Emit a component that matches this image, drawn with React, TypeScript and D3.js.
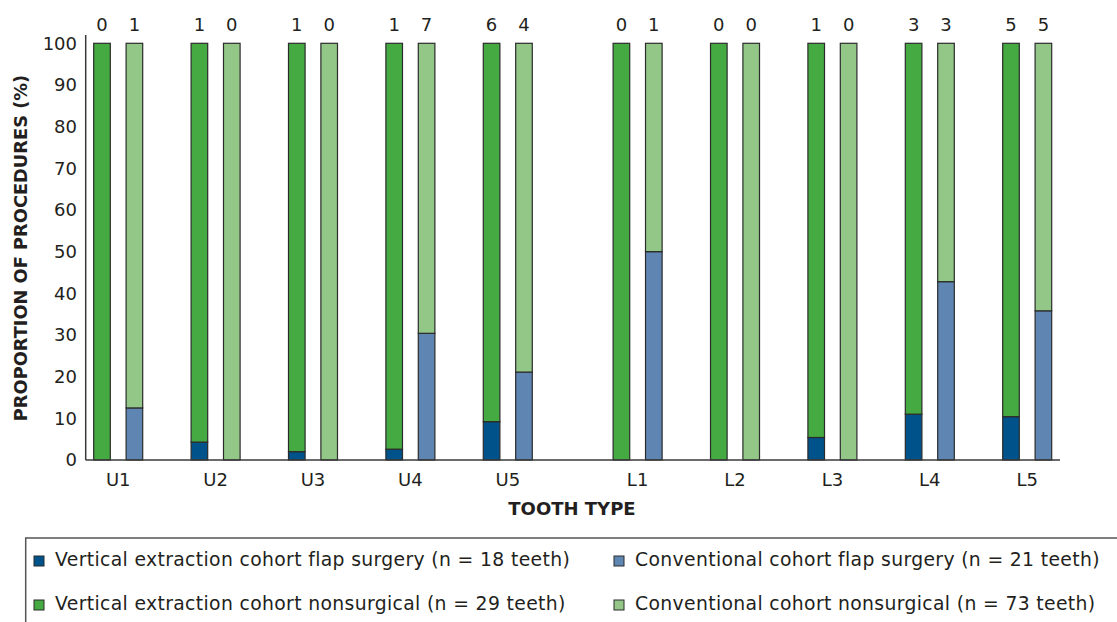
import React, { useEffect, useRef } from "react";
import * as d3 from "d3";

const teeth = ["U1", "U2", "U3", "U4", "U5", "L1", "L2", "L3", "L4", "L5"];
// % of procedures that were flap surgery, per cohort
const veFlapPct = [0, 4.3, 2, 2.6, 9.2, 0, 0, 5.4, 11, 10.4];
const convFlapPct = [12.5, 0, 0, 30.4, 21.1, 50, 0, 0, 42.8, 35.8];
// flap surgery counts shown above the bars
const veFlapN = [0, 1, 1, 1, 6, 0, 0, 1, 3, 5];
const convFlapN = [1, 0, 0, 7, 4, 1, 0, 0, 3, 5];

const legendLabels = [
    "Vertical extraction cohort flap surgery (n = 18 teeth)",
    "Conventional cohort flap surgery (n = 21 teeth)",
    "Vertical extraction cohort nonsurgical (n = 29 teeth)",
    "Conventional cohort nonsurgical (n = 73 teeth)",
];
const legendColors = ["#00528a", "#5f86b2", "#45aa42", "#93c788"];

const W = 1117;
const H = 622;
const FONT = "'DejaVu Sans', 'Open Sans', sans-serif";
const INK = "#231f20";

export default function App() {
    const ref = useRef(null);

    useEffect(() => {
        const svg = d3.select(ref.current);
        svg.selectAll("*").remove();

        const axisX = 85.7;
        const axisEnd = 1060;
        const y = d3.scaleLinear().domain([0, 100]).range([460, 43.3]);

        // upper and lower groups sit apart, so slot index gets an extra gap after U5
        const slot = (i) => i + (i >= 5 ? 0.333 : 0);
        const x = d3.scaleLinear().domain([0, slot(9)]).range([118.2, 1027.2]);
        const barW = 16.6;
        const off = 16.2;

        const rows = teeth.map((t, i) => ({
            tooth: t,
            i,
            ve: { flap: veFlapPct[i], non: 100 - veFlapPct[i] },
            conv: { flap: convFlapPct[i], non: 100 - convFlapPct[i] },
        }));

        const stack = d3.stack().keys(["flap", "non"]);
        const cohorts = [
            { key: "ve", dx: -off, colors: [legendColors[0], legendColors[2]], counts: veFlapN },
            { key: "conv", dx: off, colors: [legendColors[1], legendColors[3]], counts: convFlapN },
        ];

        const g = svg.append("g");

        cohorts.forEach((c) => {
            const series = stack(rows.map((r) => r[c.key]));
            series.forEach((s, si) => {
                g.append("g")
                    .selectAll("rect")
                    .data(s.filter((d) => d[1] - d[0] > 0))
                    .join("rect")
                    .attr("x", (d) => x(slot(rows[s.indexOf(d)].i)) + c.dx - barW / 2)
                    .attr("y", (d) => y(d[1]))
                    .attr("width", barW)
                    .attr("height", (d) => y(d[0]) - y(d[1]))
                    .attr("fill", c.colors[si])
                    .attr("stroke", "#2b2b2b")
                    .attr("stroke-width", 1.2);
            });

            g.append("g")
                .selectAll("text")
                .data(c.counts)
                .join("text")
                .attr("x", (d, i) => x(slot(i)) + c.dx)
                .attr("y", 30.5)
                .attr("text-anchor", "middle")
                .attr("font-family", FONT)
                .attr("font-size", 18)
                .attr("fill", INK)
                .text((d) => d);
        });

        // axes
        g.append("line")
            .attr("x1", axisX).attr("x2", axisX)
            .attr("y1", 35).attr("y2", y(0))
            .attr("stroke", "#3a3a3a").attr("stroke-width", 1.5);
        g.append("line")
            .attr("x1", axisX).attr("x2", axisEnd)
            .attr("y1", y(0)).attr("y2", y(0))
            .attr("stroke", "#3a3a3a").attr("stroke-width", 1.5);

        g.append("g")
            .selectAll("text")
            .data(y.ticks(10))
            .join("text")
            .attr("x", 77)
            .attr("y", (d) => y(d))
            .attr("dy", "0.36em")
            .attr("text-anchor", "end")
            .attr("font-family", FONT)
            .attr("font-size", 18)
            .attr("fill", INK)
            .text((d) => d);

        g.append("g")
            .selectAll("text")
            .data(teeth)
            .join("text")
            .attr("x", (d, i) => x(slot(i)))
            .attr("y", 486)
            .attr("text-anchor", "middle")
            .attr("font-family", FONT)
            .attr("font-size", 18)
            .attr("fill", INK)
            .text((d) => d);

        g.append("text")
            .attr("x", 572)
            .attr("y", 515)
            .attr("text-anchor", "middle")
            .attr("font-family", FONT)
            .attr("font-size", 18)
            .attr("font-weight", "bold")
            .attr("fill", INK)
            .text("TOOTH TYPE");

        g.append("text")
            .attr("transform", "translate(27,248) rotate(-90)")
            .attr("text-anchor", "middle")
            .attr("font-family", FONT)
            .attr("font-size", 17.8)
            .attr("font-weight", "bold")
            .attr("fill", INK)
            .text("PROPORTION OF PROCEDURES (%)");

        // legend box
        const lg = svg.append("g");
        lg.append("rect")
            .attr("x", 25.7).attr("y", 538)
            .attr("width", W).attr("height", 200)
            .attr("fill", "none")
            .attr("stroke", "#555").attr("stroke-width", 1.5);

        const item = lg.selectAll("g.item")
            .data(legendLabels)
            .join("g")
            .attr("class", "item")
            .attr("transform", (d, i) => `translate(${i % 2 ? 614 : 34},${i < 2 ? 556 : 600})`);
        item.append("rect")
            .attr("width", 10).attr("height", 10)
            .attr("fill", (d, i) => legendColors[i])
            .attr("stroke", "#2b2b2b").attr("stroke-width", 1);
        item.append("text")
            .attr("x", 21)
            .attr("y", 10)
            .attr("font-family", FONT)
            .attr("font-size", 18.8)
            .attr("letter-spacing", 0.35)
            .attr("fill", INK)
            .text((d) => d);
    }, []);

    return (
        <svg
            ref={ref}
            width={W}
            height={H}
            style={{ position: "absolute", left: 0, top: 0, background: "#fff" }}
        ></svg>
    );
}
